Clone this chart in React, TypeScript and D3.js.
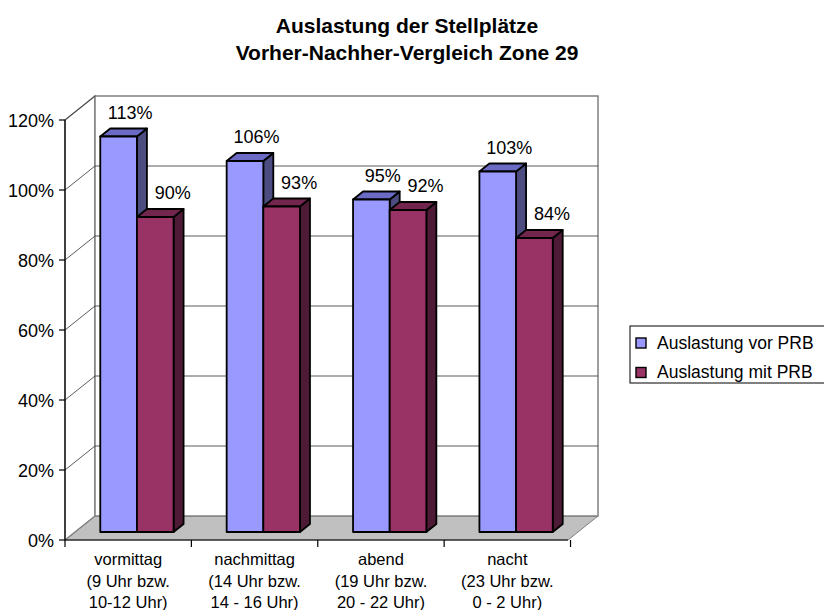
import React, { useEffect, useRef } from 'react';
import * as d3 from 'd3';

const categories = ['vormittag', 'nachmittag', 'abend', 'nacht'];
const categoryLines = [
    ['vormittag', '(9 Uhr bzw.', '10-12 Uhr)'],
    ['nachmittag', '(14 Uhr bzw.', '14 - 16 Uhr)'],
    ['abend', '(19 Uhr bzw.', '20 - 22 Uhr)'],
    ['nacht', '(23 Uhr bzw.', '0 - 2 Uhr)'],
];
const seriesNames = ['Auslastung vor PRB', 'Auslastung mit PRB'];
const vorValues = [113, 106, 95, 103];
const mitValues = [90, 93, 92, 84];
const yTicks = [0, 20, 40, 60, 80, 100, 120];
const titleLines = ['Auslastung der Stellplätze', 'Vorher-Nachher-Vergleich Zone 29'];

const FONT = 'Arial, "Liberation Sans", sans-serif';

const App = () => {
    const ref = useRef(null);

    useEffect(() => {
        if (!ref.current) return;
        const width = 824;
        const height = 610;

        // front plane of the 3D box
        const left = 65, right = 568, bottom = 540, top = 120;
        const depthX = 30, depthY = 24; // wall depth
        const barOffX = depthX / 3, barOffY = depthY / 3; // bars sit in the middle third

        d3.select(ref.current).selectAll('*').remove();

        const svg = d3.select(ref.current)
            .append('svg')
            .attr('width', width)
            .attr('height', height)
            .style('position', 'absolute')
            .style('left', 0)
            .style('top', 0)
            .style('font-family', FONT);

        const y = d3.scaleLinear().domain([0, 120]).range([bottom, top]);
        const x = d3.scaleBand().domain(categories).range([left, right]).paddingInner(0.42).paddingOuter(0.2);
        const xs = d3.scaleBand().domain(seriesNames).range([0, x.bandwidth()]);

        // title
        svg.append('g').selectAll('text')
            .data(titleLines)
            .enter()
            .append('text')
            .attr('x', 407)
            .attr('y', (d, i) => 33 + i * 27)
            .attr('text-anchor', 'middle')
            .style('font-size', '21px')
            .style('font-weight', 'bold')
            .text(d => d);

        // floor
        svg.append('polygon')
            .attr('points', [[left, bottom], [right, bottom], [right + depthX, bottom - depthY], [left + depthX, bottom - depthY]].join(' '))
            .attr('fill', '#c0c0c0')
            .attr('stroke', '#808080')
            .attr('stroke-width', 1);

        // left wall
        svg.append('polygon')
            .attr('points', [[left, bottom], [left, top], [left + depthX, top - depthY], [left + depthX, bottom - depthY]].join(' '))
            .attr('fill', 'white')
            .attr('stroke', '#808080')
            .attr('stroke-width', 1.5);

        // back wall
        svg.append('rect')
            .attr('x', left + depthX)
            .attr('y', top - depthY)
            .attr('width', right - left)
            .attr('height', bottom - top)
            .attr('fill', 'white')
            .attr('stroke', '#808080')
            .attr('stroke-width', 1.5);

        // gridlines
        const grid = svg.append('g');
        yTicks.filter(t => t > 0).forEach(t => {
            grid.append('line')
                .attr('x1', left).attr('y1', y(t))
                .attr('x2', left + depthX).attr('y2', y(t) - depthY)
                .attr('stroke', '#303030').attr('stroke-width', 0.8);
            if (t < 120) {
                grid.append('line')
                    .attr('x1', left + depthX).attr('y1', y(t) - depthY)
                    .attr('x2', right + depthX).attr('y2', y(t) - depthY)
                    .attr('stroke', '#303030').attr('stroke-width', 0.8);
            }
        });

        // axes
        svg.append('line')
            .attr('x1', left).attr('y1', top).attr('x2', left).attr('y2', bottom)
            .attr('stroke', 'black').attr('stroke-width', 1.2);
        svg.append('line')
            .attr('x1', left).attr('y1', bottom).attr('x2', right).attr('y2', bottom)
            .attr('stroke', 'black').attr('stroke-width', 1.2);

        const yAxis = svg.append('g');
        yTicks.forEach(t => {
            yAxis.append('line')
                .attr('x1', left - 6).attr('y1', y(t)).attr('x2', left).attr('y2', y(t))
                .attr('stroke', 'black').attr('stroke-width', 1.2);
            yAxis.append('text')
                .attr('x', left - 11)
                .attr('y', y(t) + 6.5)
                .attr('text-anchor', 'end')
                .style('font-size', '18px')
                .text(t + '%');
        });

        // x axis ticks and labels
        const step = x.step();
        d3.range(categories.length + 1).forEach(i => {
            const tx = left + i * step;
            svg.append('line')
                .attr('x1', tx).attr('y1', bottom).attr('x2', tx).attr('y2', bottom + 7)
                .attr('stroke', 'black').attr('stroke-width', 1.2);
        });

        categories.forEach((c, i) => {
            const cx = left + (i + 0.5) * step;
            const t = svg.append('text')
                .attr('text-anchor', 'middle')
                .style('font-size', '16.5px');
            categoryLines[i].forEach((line, j) => {
                t.append('tspan')
                    .attr('x', cx)
                    .attr('y', 565 + j * 21.5)
                    .text(line);
            });
        });

        // bars
        const seriesStyle = [
            { values: vorValues, front: '#9999ff', top: '#6b6bc6', side: '#4c4c80', labelDx: 6.5 },
            { values: mitValues, front: '#993366', top: '#73264d', side: '#4e1a35', labelDx: 12.5 },
        ];

        const bars = svg.append('g');
        categories.forEach((c, i) => {
            seriesStyle.forEach((s, k) => {
                const v = s.values[i];
                const x0 = x(c) + xs(seriesNames[k]) + barOffX;
                const x1 = x0 + xs.bandwidth();
                const y0 = y(0) - barOffY;
                const y1 = y(v) - barOffY;
                const g = bars.append('g')
                    .attr('stroke', 'black')
                    .attr('stroke-width', 1.8)
                    .attr('stroke-linejoin', 'round');
                g.append('polygon')
                    .attr('points', [[x1, y1], [x1 + barOffX, y1 - barOffY], [x1 + barOffX, y0 - barOffY], [x1, y0]].join(' '))
                    .attr('fill', s.side);
                g.append('polygon')
                    .attr('points', [[x0, y1], [x0 + barOffX, y1 - barOffY], [x1 + barOffX, y1 - barOffY], [x1, y1]].join(' '))
                    .attr('fill', s.top);
                g.append('rect')
                    .attr('x', x0).attr('y', y1)
                    .attr('width', x1 - x0).attr('height', y0 - y1)
                    .attr('fill', s.front);
            });
        });

        // value labels, drawn on top
        categories.forEach((c, i) => {
            seriesStyle.forEach((s, k) => {
                const v = s.values[i];
                const x0 = x(c) + xs(seriesNames[k]) + barOffX;
                const cx = x0 + xs.bandwidth() / 2 + barOffX / 2 + s.labelDx;
                svg.append('text')
                    .attr('x', cx)
                    .attr('y', y(v) - barOffY - 18)
                    .attr('text-anchor', 'middle')
                    .style('font-size', '18px')
                    .text(v + '%');
            });
        });

        // legend
        const legend = svg.append('g');
        legend.append('rect')
            .attr('x', 630).attr('y', 326)
            .attr('width', 210).attr('height', 57)
            .attr('fill', 'white').attr('stroke', 'black').attr('stroke-width', 1);
        seriesStyle.forEach((s, k) => {
            legend.append('rect')
                .attr('x', 636).attr('y', 338 + k * 29.5)
                .attr('width', 10).attr('height', 10)
                .attr('fill', s.front).attr('stroke', 'black').attr('stroke-width', 1.4);
            legend.append('text')
                .attr('x', 657).attr('y', 348.5 + k * 29.5)
                .style('font-size', '17.5px')
                .text(seriesNames[k]);
        });
    }, []);

    return <div ref={ref} />;
};

export default App;
